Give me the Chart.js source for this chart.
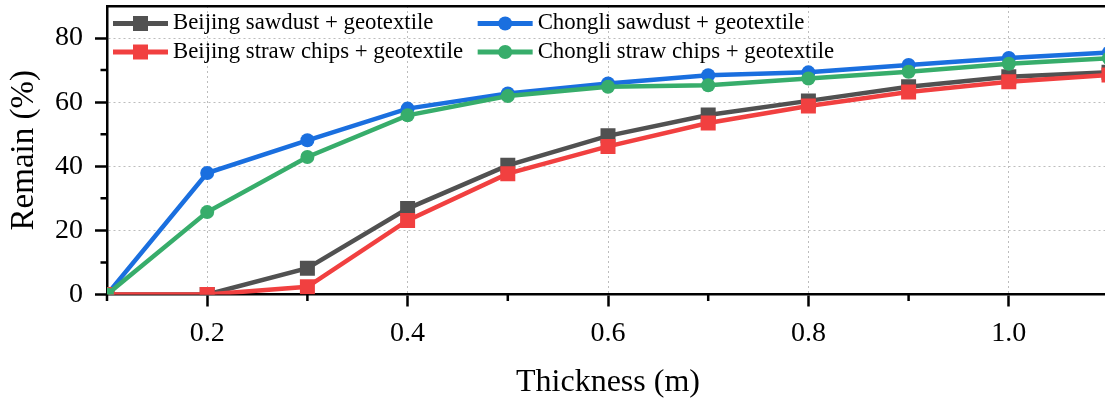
<!DOCTYPE html>
<html><head><meta charset="utf-8">
<script src="https://cdn.jsdelivr.net/npm/chart.js@4.4.1/dist/chart.umd.min.js"></script>
<style>
html,body{margin:0;padding:0;background:#fff;overflow:hidden;width:1105px;height:403px}
#wrap{position:relative;width:1109px;height:403px}
</style></head><body>
<div id="wrap"><canvas id="c"></canvas></div>
<script>
// ---- data ----
const thickness      = [0.1, 0.2, 0.3, 0.4, 0.5, 0.6, 0.7, 0.8, 0.9, 1.0, 1.1];
const beijingSawdust = [0, 0, 8.2, 26.8, 40.3, 49.5, 56.0, 60.4, 64.8, 67.9, 69.3];
const beijingStraw   = [0, 0, 2.4, 23.1, 37.7, 46.2, 53.5, 58.8, 63.2, 66.4, 68.5];
const chongliSawdust = [0, 37.9, 48.1, 58.0, 62.7, 65.8, 68.4, 69.3, 71.6, 73.8, 75.5];
const chongliStraw   = [0, 25.7, 42.9, 55.9, 61.9, 64.8, 65.3, 67.4, 69.5, 72.0, 73.7];
const seriesNames = [
  'Beijing sawdust + geotextile',
  'Beijing straw chips + geotextile',
  'Chongli sawdust + geotextile',
  'Chongli straw chips + geotextile'
];
const xMajorTicks = [0.2, 0.4, 0.6, 0.8, 1.0];
const xMinorTicks = [0.1, 0.3, 0.5, 0.7, 0.9, 1.1];
const yMajorTicks = [0, 20, 40, 60, 80];
const yMinorTicks = [10, 30, 50, 70];
const xTitle = 'Thickness (m)';
const yTitle = 'Remain (%)';

const SERIF = '"Liberation Serif", "Times New Roman", serif';
const colors = ['#515151', '#F14040', '#1A6FDF', '#37AD6B'];
const styles = ['rect', 'rect', 'circle', 'circle'];
const radii  = [10.6, 10.6, 7, 7];
const drawOrder = [3, 1, 2, 0];
const values = [beijingSawdust, beijingStraw, chongliSawdust, chongliStraw];

const datasets = values.map((vals, i) => ({
  label: seriesNames[i],
  data: thickness.map((t, j) => ({x: t, y: vals[j]})),
  borderColor: colors[i],
  backgroundColor: colors[i],
  borderWidth: 4.5,
  pointStyle: styles[i],
  pointRadius: radii[i],
  pointHoverRadius: radii[i],
  pointBorderWidth: 0,
  pointBackgroundColor: colors[i],
  tension: 0,
  order: drawOrder[i]
}));

function noPad(s) { s.paddingTop = 0; s.paddingBottom = 0; s.paddingLeft = 0; s.paddingRight = 0; }

// minor ticks drawn at scale values
const minorTicks = {
  id: 'minorTicks',
  afterDraw(chart) {
    const {ctx} = chart;
    const xs = chart.scales.x, ys = chart.scales.y;
    ctx.save();
    ctx.strokeStyle = '#000';
    ctx.lineWidth = 2.5;
    ctx.beginPath();
    xMinorTicks.forEach(v => {
      const px = xs.getPixelForValue(v);
      ctx.moveTo(px, xs.top);
      ctx.lineTo(px, xs.top + 6.5);
    });
    yMinorTicks.forEach(v => {
      const py = ys.getPixelForValue(v);
      ctx.moveTo(ys.right - 6.5, py);
      ctx.lineTo(ys.right, py);
    });
    ctx.stroke();
    ctx.restore();
  }
};

// two-column legend inside the plot
const gridLegend = {
  id: 'gridLegend',
  afterDraw(chart) {
    const {ctx, chartArea} = chart;
    const ds = chart.data.datasets;
    const cols = [[0, 1], [2, 3]];
    const lineLen = 55, gapText = 5, colGap = 14.5;
    const rowY = [chartArea.top + 17.5, chartArea.top + 46];
    ctx.save();
    ctx.font = '22.8px ' + SERIF;
    ctx.textBaseline = 'middle';
    ctx.textAlign = 'left';
    let x = chartArea.left + 6;
    cols.forEach(col => {
      let maxW = 0;
      col.forEach((di, r) => {
        const d = ds[di];
        const y = rowY[r];
        ctx.strokeStyle = d.borderColor;
        ctx.lineWidth = 5;
        ctx.beginPath();
        ctx.moveTo(x, y);
        ctx.lineTo(x + lineLen, y);
        ctx.stroke();
        ctx.fillStyle = d.borderColor;
        Chart.helpers.drawPoint(ctx, {pointStyle: d.pointStyle, radius: d.pointRadius, borderWidth: 0, rotation: 0}, x + lineLen / 2, y);
        ctx.fillStyle = '#000';
        ctx.fillText(d.label, x + lineLen + gapText, y);
        maxW = Math.max(maxW, ctx.measureText(d.label).width);
      });
      x += lineLen + gapText + maxW + colGap;
    });
    ctx.restore();
  }
};

new Chart(document.getElementById('c'), {
  type: 'line',
  data: {datasets},
  plugins: [minorTicks, gridLegend],
  options: {
    responsive: true,
    maintainAspectRatio: false,
    animation: false,
    devicePixelRatio: 1,
    layout: {padding: 0, autoPadding: false},
    plugins: {legend: {display: false}, tooltip: {enabled: false}},
    scales: {
      x: {
        type: 'linear', position: 'bottom', min: 0.1, max: 1.1,
        afterBuildTicks: s => { s.ticks = xMajorTicks.map(v => ({value: v})); },
        afterFit: s => { s.height = 108.5; noPad(s); },
        ticks: {
          color: '#000', padding: 10, maxRotation: 0, autoSkip: false,
          font: {family: SERIF, size: 28},
          callback: v => v.toFixed(1)
        },
        grid: {color: '#bdbdbd', lineWidth: 1, tickLength: 12, tickColor: '#000', tickWidth: 2.5},
        border: {display: true, color: '#000', width: 2.5, dash: [2, 3]},
        title: {display: true, text: xTitle, color: '#000', font: {family: SERIF, size: 32}, padding: {top: 0, bottom: 1}}
      },
      xTop: {
        type: 'linear', position: 'top', min: 0.1, max: 1.1,
        afterFit: s => { s.height = 6; noPad(s); },
        ticks: {display: false},
        grid: {display: false},
        border: {display: true, color: '#000', width: 2.5}
      },
      y: {
        type: 'linear', position: 'left', min: 0, max: 90,
        afterBuildTicks: s => { s.ticks = yMajorTicks.map(v => ({value: v})); },
        afterFit: s => { s.width = 107; noPad(s); },
        ticks: {color: '#000', padding: 12, font: {family: SERIF, size: 28}},
        grid: {color: '#bdbdbd', lineWidth: 1, tickLength: 12, tickColor: '#000', tickWidth: 2.5},
        border: {display: true, color: '#000', width: 2.5, dash: [2, 3]},
        title: {display: true, text: yTitle, color: '#000', font: {family: SERIF, size: 33}, padding: {top: 5, bottom: 0}}
      }
    }
  }
});
</script>
</body></html>
